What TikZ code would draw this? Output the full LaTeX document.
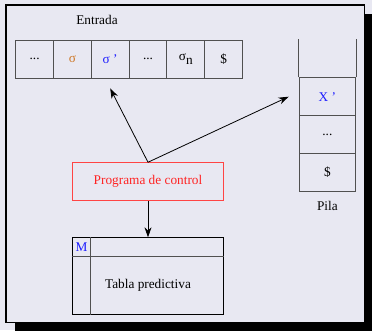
\documentclass[tikz,border=0pt]{standalone}
\usepackage{fontspec}
\setmainfont{Liberation Serif}
\usetikzlibrary{arrows.meta}
\definecolor{fondo}{RGB}{232,232,242}
\definecolor{naranja}{RGB}{206,120,40}
\definecolor{azul}{RGB}{30,30,255}
\definecolor{rojo}{RGB}{255,35,35}
\definecolor{gris}{RGB}{80,80,80}
\begin{document}
\begin{tikzpicture}[x=1pt,y=-1pt,
    texto/.style={font=\fontsize{13.3}{16}\selectfont, inner sep=0pt},
    celda/.style={texto, draw=gris, line width=0.9pt, minimum height=38pt},
    flecha/.style={-{Stealth[length=10pt,width=7pt]}, line width=0.8pt}]
    % Background, shadow and frame
    \fill[fondo] (0,0) rectangle (372,330);
    \useasboundingbox (0,0) rectangle (372,330);
    \fill[black] (15,14) rectangle (374,332);
    \filldraw[fill=fondo, draw=black, line width=1.2pt] (6,5) rectangle (364.5,322.5);

    % Input tape
    \node[texto] (entrada) at (97,20) {Entrada};
    \def\cw{37.8}   % cell width
    \foreach \i/\txt/\col in {1/{...}/black, 2/σ/naranja, 3/{σ\ '}/azul, 4/{...}/black, 5/{σ\raisebox{-0.55ex}{n}}/black, 6/\$/black} {
      \pgfmathsetmacro{\cx}{15.7 + \cw*(\i-0.5)}
      \node[celda, minimum width=\cw pt, text=\col] (e\i) at (\cx, 59) {\txt};
    }

    % Stack
    \node[celda, minimum width=56.7pt, text=azul] (p1) at (327.4,96.7) {X\ '};
    \node[celda, minimum width=56.7pt] (p2) at (327.4,134.5) {...};
    \node[celda, minimum width=56.7pt] (p3) at (327.4,172.3) {\$};
    \draw[gris, line width=0.9pt] (p1.north west) -- ++(0,-38);
    \draw[gris, line width=0.9pt] (p1.north east) -- ++(0,-38);
    \node[texto] (pila) at (327.4,206) {Pila};

    % Control program
    \node[texto, draw=rojo!85, text=rojo, line width=0.9pt, minimum width=151.7pt, minimum height=38pt] (control) at (148,181.7) {Programa de control};

    % Predictive table
    \node[draw=black, line width=0.9pt, minimum width=151.7pt, minimum height=76.3pt, inner sep=0pt] (tabla) at (148,275.9) {};
    \draw[gris, line width=0.9pt] ([yshift=-19.6pt]tabla.north west) -- ([yshift=-19.6pt]tabla.north east);
    \draw[gris, line width=0.9pt] ([xshift=19pt]tabla.north west) -- ([xshift=19pt]tabla.south west);
    \node[texto, text=azul] (m) at (81.5,247.5) {M};
    \node[texto] (tpred) at (148,285) {Tabla predictiva};

    % Arrows
    \coordinate (puntaE) at ([yshift=-10pt]e3.south);
    \coordinate (puntaP) at ([xshift=-10pt]p1.west);
    \draw[flecha] (control.north) -- (puntaE);
    \draw[flecha] (control.north) -- (puntaP);
    \draw[flecha] (control.south) -- (tabla.north);
\end{tikzpicture}
\end{document}
